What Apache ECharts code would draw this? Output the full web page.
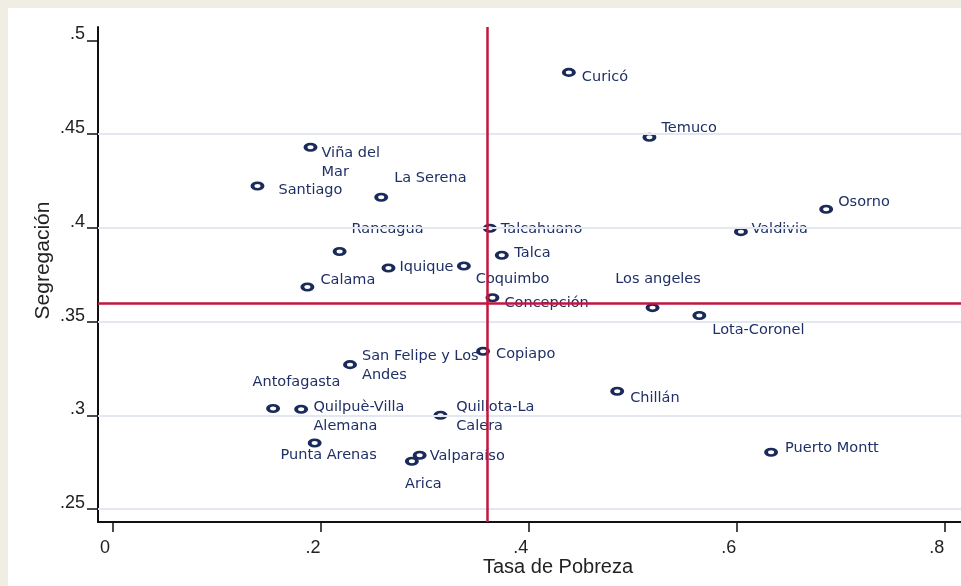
<!DOCTYPE html>
<html><head><meta charset="utf-8">
<script src="https://cdn.jsdelivr.net/npm/echarts@6/dist/echarts.min.js"></script>
<style>
html,body{margin:0;padding:0;background:#f0eee2;}
#panel{position:absolute;left:8px;top:8px;width:953px;height:578px;background:#ffffff;}
#chart{position:absolute;left:0;top:0;width:961px;height:586px;}
</style></head><body>
<div id="panel"></div><div id="chart"></div>
<script>
// ---- data ----
const cities = ["Santiago","Viña del\nMar","La Serena","Rancagua","Iquique","Coquimbo","Calama",
  "Curicó","Temuco","Osorno","Talcahuano","Valdivia","Talca","Los angeles","Concepción",
  "Lota-Coronel","Copiapo","Chillán","Puerto Montt","San Felipe y Los\nAndes","Antofagasta",
  "Quilpuè-Villa\nAlemana","Punta Arenas","Quillota-La\nCalera","Valparaíso","Arica"];
const pobreza = [0.139,0.190,0.258,0.218,0.265,0.3375,0.187,
  0.4385,0.516,0.686,0.3625,0.604,0.374,0.519,0.365,
  0.564,0.356,0.485,0.633,0.228,0.154,
  0.181,0.194,0.315,0.295,0.2875];
const segregacion = [0.4223,0.4430,0.4163,0.3874,0.3786,0.3797,0.3685,
  0.4829,0.4483,0.4099,0.3998,0.3980,0.3854,0.3575,0.3628,
  0.3533,0.3342,0.3129,0.2804,0.3271,0.3037,
  0.3033,0.2853,0.3001,0.2788,0.2756];
const xTicks = [0,0.2,0.4,0.6,0.8];
const yTicks = [0.25,0.3,0.35,0.4,0.45,0.5];
const gridValues = [0.25,0.3,0.35,0.4,0.45];
const meanPobreza = 0.3606;
const meanSegregacion = 0.36;

// ---- label placement (pixel offsets from marker centre) ----
const labelPlacement = {
  "Santiago":[21,4.5,"left"], "Viña del\nMar":[11,15.5,"left"], "La Serena":[13,-19,"left"],
  "Rancagua":[12,-22,"left"], "Iquique":[11,-1,"left"], "Coquimbo":[12,13.5,"left"],
  "Calama":[13,-7,"left"], "Curicó":[13,5,"left"], "Temuco":[12,-9,"left"],
  "Osorno":[12,-7,"left"], "Talcahuano":[11,0.5,"left"], "Valdivia":[10.5,-2.5,"left"],
  "Talca":[12.5,-2,"left"], "Los angeles":[5.5,-28,"center"], "Concepción":[12,6,"left"],
  "Lota-Coronel":[13,15,"left"], "Copiapo":[13,3,"left"], "Chillán":[13,7,"left"],
  "Puerto Montt":[14,-4,"left"], "San Felipe y Los\nAndes":[12,1,"left"],
  "Antofagasta":[23.4,-26.6,"center"], "Quilpuè-Villa\nAlemana":[12.3,7.3,"left"],
  "Punta Arenas":[14,12.6,"center"], "Quillota-La\nCalera":[15.7,1,"left"],
  "Valparaíso":[10,1,"left"], "Arica":[11.5,23,"center"]
};

const points = cities.map((c,i)=>({name:c, value:[pobreza[i], segregacion[i]]}));

const fmt = v => v===0 ? '0' : String(+v.toFixed(2)).replace(/^0\./,'.');
const navy = '#1a2a5a';
const red = '#c2163e';

const chart = echarts.init(document.getElementById('chart'), null, {renderer:'canvas'});
chart.setOption({
  backgroundColor:'transparent',
  animation:false,
  grid:{left:98, top:27, right:-57, bottom:64, containLabel:false, outerBoundsMode:'none'},
  xAxis:{
    type:'value', min:-0.0144, max:0.8705,
    name:'Tasa de Pobreza', nameLocation:'middle', nameGap:35, nameMoveOverlap:false,
    nameTextStyle:{fontFamily:'Liberation Sans', fontSize:20, color:'#222'},
    axisLine:{show:true, onZero:false, lineStyle:{color:'#111', width:2}},
    axisTick:{show:true, length:10, customValues:xTicks, lineStyle:{color:'#111', width:1.5}},
    axisLabel:{customValues:xTicks, formatter:fmt, margin:17, fontFamily:'Liberation Sans', fontSize:18, color:'#222', padding:[0,16,0,0]},
    splitLine:{show:false}
  },
  yAxis:{
    type:'value', min:0.2432, max:0.5071,
    name:'Segregación', nameLocation:'middle', nameGap:44, nameMoveOverlap:false,
    nameTextStyle:{fontFamily:'Liberation Sans', fontSize:21, color:'#222', padding:[0,0,0,28]},
    axisLine:{show:true, onZero:false, lineStyle:{color:'#111', width:2}},
    axisTick:{show:true, length:11, customValues:yTicks, lineStyle:{color:'#111', width:1.5}},
    axisLabel:{customValues:yTicks, formatter:fmt, margin:13, fontFamily:'Liberation Sans', fontSize:18, color:'#222', verticalAlign:'bottom', lineHeight:12},
    splitLine:{show:false}
  },
  series:[
    {
      type:'scatter', data:[], z:1, silent:true,
      markLine:{
        silent:true, symbol:['none','none'], label:{show:false}, animation:false,
        lineStyle:{color:'#e2e7f0', width:2, type:'solid'},
        data:gridValues.map(v=>({yAxis:v}))
      }
    },
    {
      type:'scatter', data:[], z:3, silent:true,
      markLine:{
        silent:true, symbol:['none','none'], label:{show:false}, animation:false,
        lineStyle:{color:red, width:2.5, type:'solid'},
        data:[{xAxis:meanPobreza},{yAxis:meanSegregacion}]
      }
    },
    {
      type:'scatter', z:4,
      symbol:'path://M0,5A5,5 0 1,1 10,5A5,5 0 1,1 0,5Z',
      symbolSize:[10,6.5],
      itemStyle:{color:'rgba(255,255,255,0)', borderColor:navy, borderWidth:3.2, opacity:1},
      label:{show:true, position:'inside', verticalAlign:'middle', formatter:p=>p.name,
        fontFamily:'DejaVu Sans', fontSize:14.5, color:'#1f3066', lineHeight:19,
        textBorderWidth:0, textBorderColor:'transparent', textShadowBlur:0},
      labelLayout:function(params){
        const p = labelPlacement[cities[params.dataIndex]];
        const cx = params.rect.x + params.rect.width/2;
        const cy = params.rect.y + params.rect.height/2;
        return {x: cx + p[0], y: cy + p[1], align: p[2], verticalAlign:'middle', hideOverlap:false};
      },
      data:points
    }
  ]
});
</script></body></html>
